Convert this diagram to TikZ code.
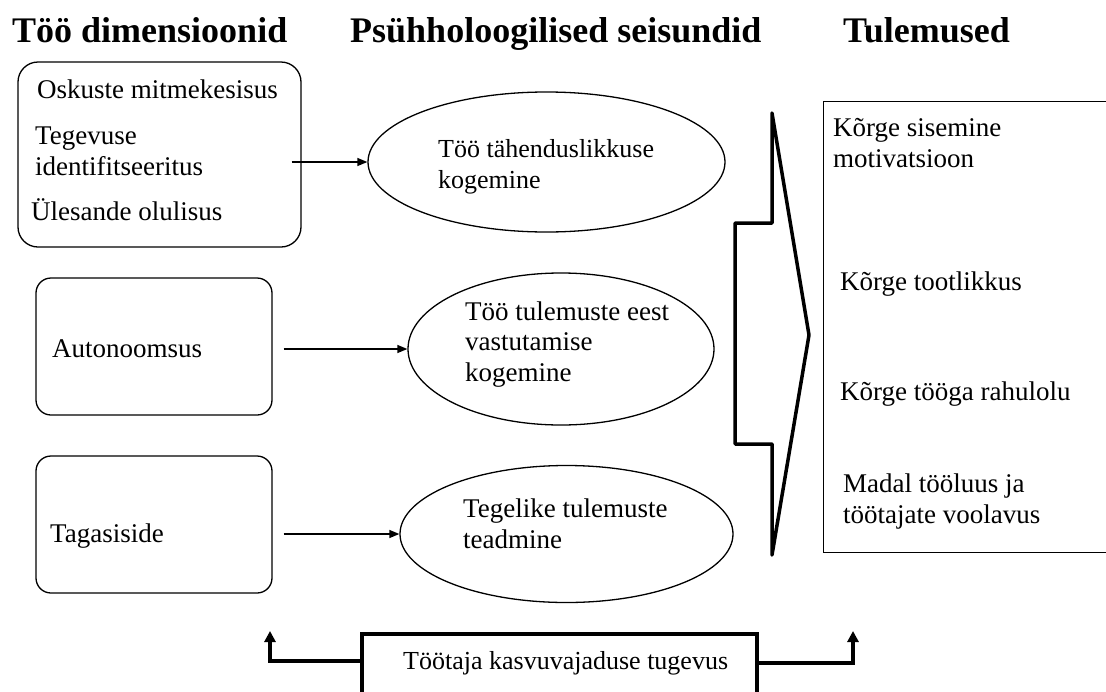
\documentclass[tikz,border=0pt]{standalone}
\usepackage{fontspec}
\setmainfont{Liberation Serif}
\usetikzlibrary{arrows.meta,shapes.geometric}

\tikzset{
  heading/.style={anchor=base west, inner sep=0pt, font=\fontsize{36}{40}\selectfont\bfseries},
  % for multi-line texts the base anchor sits on the last line
  txt/.style={anchor=base west, inner sep=0pt, align=left, font=\fontsize{27}{30.5}\selectfont},
  dimbox/.style={draw, rounded corners=15pt, line width=1.3pt, inner sep=0pt},
  state/.style={draw, ellipse, line width=1.3pt, inner sep=0pt},
  thinarrow/.style={line width=1.3pt, -{Triangle[length=10pt,width=8pt]}},
  bold/.style={line width=3.5pt},
  boldarrow/.style={line width=3.5pt, -{Triangle[length=11pt,width=11pt]}}
}

\begin{document}
\begin{tikzpicture}[x=1pt,y=-1pt]
\useasboundingbox (0,0) rectangle (1106,691);
\clip (0,0) rectangle (1106,691);

% column headings
\node[heading] (h1) at (12,42) {Töö dimensioonid};
\node[heading] (h2) at (350,42) {Psühholoogilised seisundid};
\node[heading] (h3) at (843,42) {Tulemused};

% job dimensions
\node[dimbox, rounded corners=20pt, minimum width=283pt, minimum height=185pt] (d1) at (159.5,154.5) {};
\node[txt] (d1a) at (37,98) {Oskuste mitmekesisus};
\node[txt] (d1b) at (35,175) {Tegevuse\\identifitseeritus};
\node[txt] (d1c) at (31,220) {Ülesande olulisus};

\node[dimbox, minimum width=236pt, minimum height=137pt] (d2) at (154,346.5) {};
\node[txt] (d2a) at (52,357) {Autonoomsus};

\node[dimbox, minimum width=236pt, minimum height=137pt] (d3) at (154,524.5) {};
\node[txt] (d3a) at (50,542) {Tagasiside};

% psychological states
\node[state, minimum width=357pt, minimum height=140pt] (s1) at (546.5,162) {};
\node[txt, font=\fontsize{26}{30.5}\selectfont] (s1a) at (438,188) {Töö tähenduslikkuse\\kogemine};

\node[state, minimum width=306pt, minimum height=152pt] (s2) at (561,349) {};
\node[txt] (s2a) at (465,381) {Töö tulemuste eest\\vastutamise\\kogemine};

\node[state, minimum width=333pt, minimum height=137pt] (s3) at (566.5,534) {};
\node[txt] (s3a) at (463,548) {Tegelike tulemuste\\teadmine};

% dimension -> state connectors
\draw[thinarrow, shorten <=-10pt] (d1.east |- s1) -- (s1.west);
\draw[thinarrow, shorten <=11pt] (d2.east |- s2) -- (s2.west);
\draw[thinarrow, shorten <=11pt] (d3.east |- s3) -- (s3.west);

% large chevron arrow towards the outcomes
\draw[bold, line join=round] (772,113) -- (772,223) -- (735,223) -- (735,444)
  -- (772,444) -- (772,555) -- (809,335) -- cycle;

% outcomes
\node[draw, line width=1.3pt, inner sep=0pt, anchor=north west,
      minimum width=300pt, minimum height=451pt] (out) at (823,101) {};
\node[txt] (o1) at (833,167) {Kõrge sisemine\\motivatsioon};
\node[txt] (o2) at (840,290) {Kõrge tootlikkus};
\node[txt] (o3) at (840,400) {Kõrge tööga rahulolu};
\node[txt] (o4) at (843,523) {Madal tööluus ja\\töötajate voolavus};

% growth need strength moderator
\node[draw, line width=3.5pt, inner sep=0pt, anchor=north,
      minimum width=395pt, minimum height=120pt] (gns) at (559.5,632) {};
\node[txt, font=\fontsize{26}{30}\selectfont] (gnsa) at (403,669) {Töötaja kasvuvajaduse tugevus};

\coordinate (upL) at (270,631);
\coordinate (upR) at (853,631);
\draw[boldarrow] ([yshift=-29pt]gns.north west) -| (upL);
\draw[boldarrow] ([yshift=-31pt]gns.north east) -| (upR);
\end{tikzpicture}
\end{document}
